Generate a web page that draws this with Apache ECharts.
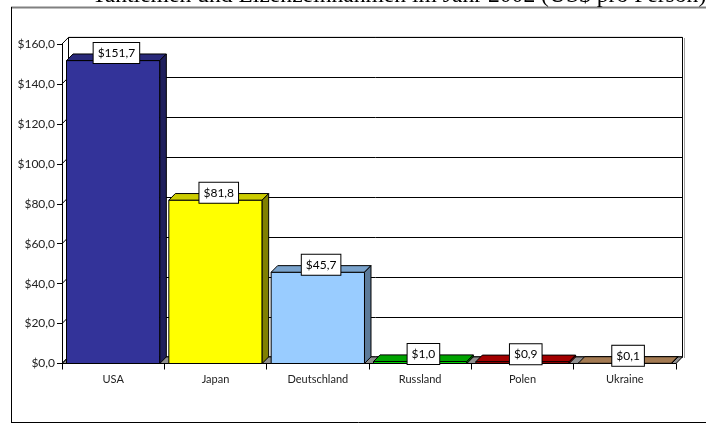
<!DOCTYPE html>
<html>
<head>
<meta charset="utf-8">
<script src="https://cdn.jsdelivr.net/npm/echarts@6/dist/echarts.min.js"></script>
<style>html,body{margin:0;padding:0;background:#fff;}#c{width:706px;height:424px;}</style>
</head>
<body>
<div id="c"></div>
<script>
const categories = ['USA', 'Japan', 'Deutschland', 'Russland', 'Polen', 'Ukraine'];
const values = [151.7, 81.8, 45.7, 1.0, 0.9, 0.1];
const yTicks = [0, 20, 40, 60, 80, 100, 120, 140, 160];
const frontColors = ['#333399', '#FFFF00', '#99CCFF', '#00CC00', '#CC0000', '#CC9966'];
const topColors = ['#29297a', '#CCCC00', '#7aa3cc', '#00a300', '#a30000', '#a37a52'];
const sideColors = ['#1f1f5c', '#808000', '#5c7a99', '#007a00', '#7a0000', '#7a5c3d'];
const titleText = 'Tantiemen und Lizenzeinnahmen im Jahr 2002 (US$ pro Person)';

const DX = 6.5, DY = 6.6;
const FONT = 'Lato';
const fmt = v => '$' + v.toFixed(1).replace('.', ',');

const chart = echarts.init(document.getElementById('c'), null, {renderer: 'canvas'});

function renderFloorWall(params, api) {
  const band = api.size([1, 0])[0];
  const p0 = api.coord([0, 0]);
  const pN = api.coord([categories.length - 1, 0]);
  const xl = p0[0] - band / 2, xr = pN[0] + band / 2, yb = p0[1];
  const children = [];
  children.push({
    type: 'polygon',
    shape: {points: [[xl, yb], [xr, yb], [xr + DX, yb - DY], [xl + DX, yb - DY]]},
    style: {fill: '#8f8f8f', stroke: '#000', lineWidth: 1}
  });
  yTicks.forEach(t => {
    const p = api.coord([0, t]);
    children.push({
      type: 'line',
      shape: {x1: xl, y1: p[1], x2: xl + DX, y2: p[1] - DY},
      style: {stroke: '#000', lineWidth: 1}
    });
  });
  return {type: 'group', children};
}

function renderBar(params, api) {
  const i = api.value(0), v = api.value(1);
  const top = api.coord([i, v]);
  const base = api.coord([i, 0]);
  const band = api.size([1, 0])[0];
  const w = band * 0.912;
  const xl = top[0] - w / 2, xr = top[0] + w / 2, yt = top[1], yb = base[1];
  const st = {stroke: '#000', lineWidth: 1, lineJoin: 'round'};
  return {
    type: 'group',
    children: [
      {type: 'rect', shape: {x: xl, y: yt, width: w, height: yb - yt},
        style: Object.assign({fill: frontColors[i]}, st)},
      {type: 'polygon', shape: {points: [[xl, yt], [xr, yt], [xr + DX, yt - DY], [xl + DX, yt - DY]]},
        style: Object.assign({fill: topColors[i]}, st)},
      {type: 'polygon', shape: {points: [[xr, yt], [xr + DX, yt - DY], [xr + DX, yb - DY], [xr, yb]]},
        style: Object.assign({fill: sideColors[i]}, st)},
      {type: 'text', z2: 10,
        style: {text: fmt(v), x: top[0] + DX / 2, y: yt - 7.5, align: 'center', verticalAlign: 'middle',
          font: '12px ' + FONT, fill: '#000', backgroundColor: '#fff', borderColor: '#000', borderWidth: 1,
          padding: [4, 4, 4, 4]}}
    ]
  };
}

const option = {
  animation: false,
  backgroundColor: '#fff',
  graphic: [
    {type: 'line', shape: {x1: 11, y1: 7.5, x2: 706, y2: 7.5}, style: {stroke: '#808080', lineWidth: 2}, z: 0},
    {type: 'line', shape: {x1: 11.5, y1: 7, x2: 11.5, y2: 422.5}, style: {stroke: '#000', lineWidth: 1}, z: 0},
    {type: 'line', shape: {x1: 11, y1: 422.5, x2: 706, y2: 422.5}, style: {stroke: '#000', lineWidth: 1}, z: 0},
    {type: 'line', shape: {x1: 684.5, y1: 38, x2: 684.5, y2: 358}, style: {stroke: '#a0a0a0', lineWidth: 1}, z: 0},
    {type: 'text', x: 92, y: -4, z: 5,
      style: {text: titleText, font: '23.6px "Liberation Serif"', fill: '#000', verticalAlign: 'middle', align: 'left'}}
  ],
  grid: [
    {left: 62, top: 44, width: 614, height: 319.5},
    {left: 62 + DX, top: 44 - DY, width: 614, height: 319.5, show: true, borderColor: '#000', borderWidth: 1, backgroundColor: '#fff'}
  ],
  xAxis: [
    {type: 'category', gridIndex: 0, data: categories,
      axisLine: {show: true, lineStyle: {color: '#000', width: 1}},
      axisTick: {show: true, length: 6, lineStyle: {color: '#000'}},
      axisLabel: {fontFamily: FONT, fontSize: 11, color: '#222', margin: 10},
      splitLine: {show: false}},
    {type: 'category', gridIndex: 1, data: categories, show: false}
  ],
  yAxis: [
    {type: 'value', gridIndex: 0, min: 0, max: 160, interval: 20,
      axisLine: {show: true, lineStyle: {color: '#000', width: 1}},
      axisTick: {show: true, length: 5, lineStyle: {color: '#000'}},
      axisLabel: {fontFamily: FONT, fontSize: 12, color: '#222', margin: 7, formatter: v => fmt(v)},
      splitLine: {show: false}},
    {type: 'value', gridIndex: 1, min: 0, max: 160, interval: 20,
      axisLine: {show: false}, axisTick: {show: false}, axisLabel: {show: false},
      splitLine: {show: true, lineStyle: {color: '#000', width: 1}}}
  ],
  series: [
    {type: 'custom', xAxisIndex: 0, yAxisIndex: 0, z: 1, renderItem: renderFloorWall, data: [[0, 0]], silent: true},
    {type: 'custom', xAxisIndex: 0, yAxisIndex: 0, z: 3, renderItem: renderBar,
      data: values.map((v, i) => [i, v]), encode: {x: 0, y: 1}}
  ]
};
chart.setOption(option);
</script>
</body>
</html>
